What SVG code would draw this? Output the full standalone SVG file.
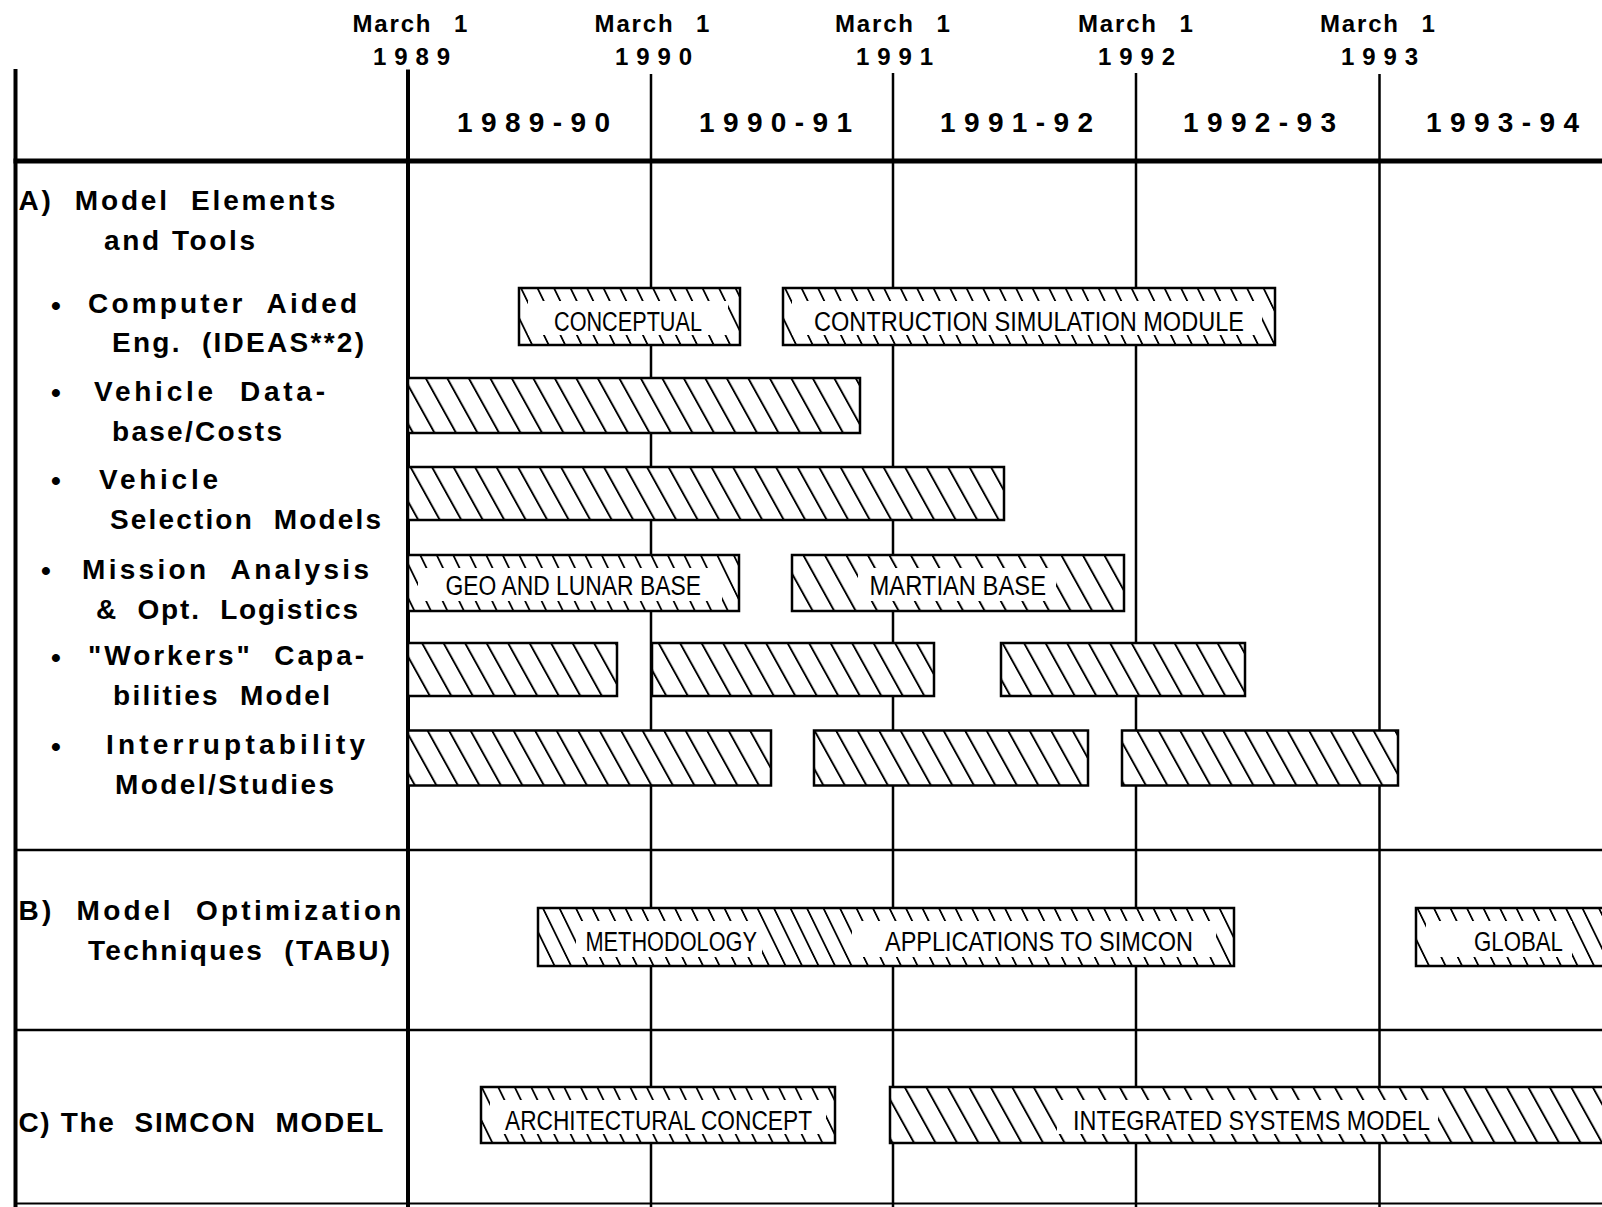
<svg xmlns="http://www.w3.org/2000/svg" width="1602" height="1207" viewBox="0 0 1602 1207">
<defs>
<pattern id="hd" width="21.5" height="40" patternUnits="userSpaceOnUse" patternTransform="skewX(29)">
<rect x="0" y="0" width="2.2" height="40" fill="#000"/>
</pattern>
<pattern id="hl" width="16.5" height="40" patternUnits="userSpaceOnUse" patternTransform="skewX(26)">
<rect x="0" y="0" width="2" height="40" fill="#000"/>
</pattern>
<style>
.lbl{font-family:"Liberation Sans",Arial,Helvetica,sans-serif;font-weight:bold;font-size:28px;fill:#000}
.mar{font-family:"Liberation Sans",Arial,Helvetica,sans-serif;font-weight:bold;font-size:24px;fill:#000}
.yr{font-family:"Liberation Sans",Arial,Helvetica,sans-serif;font-weight:bold;font-size:28px;fill:#000}
.bt{font-family:"Liberation Sans",Arial,Helvetica,sans-serif;font-size:27px;fill:#000}
.bg{fill:#fff}
.msk{fill:#fff}
.out{fill:none;stroke:#000;stroke-width:2.5}
.hd{fill:url(#hd)}
.hl{fill:url(#hl)}
.grid line{stroke:#000;stroke-width:2.5}
</style>
</defs>
<rect width="1602" height="1207" fill="#fff"/>

<g id="connectors" class="grid">
<line x1="15.5" y1="69" x2="15.5" y2="1207" style="stroke-width:4"/>
<line x1="408" y1="69.5" x2="408" y2="1207" style="stroke-width:4"/>
<line x1="651" y1="74" x2="651" y2="1207"/>
<line x1="893" y1="73" x2="893" y2="1207"/>
<line x1="1136" y1="73" x2="1136" y2="1207"/>
<line x1="1379.5" y1="74" x2="1379.5" y2="1207"/>
<line x1="13.5" y1="161" x2="1602" y2="161" style="stroke-width:5"/>
<line x1="15" y1="850" x2="1602" y2="850"/>
<line x1="15" y1="1030" x2="1602" y2="1030"/>
<line x1="15" y1="1203.5" x2="1602" y2="1203.5" style="stroke-width:2"/>
</g>

<g id="header">
<text class="mar" x="352.5" y="31.7" textLength="78" lengthAdjust="spacing">March</text><text class="mar" x="454" y="31.7">1</text>
<text class="mar" x="594.6" y="31.7" textLength="78" lengthAdjust="spacing">March</text><text class="mar" x="696.1" y="31.7">1</text>
<text class="mar" x="835" y="31.7" textLength="78" lengthAdjust="spacing">March</text><text class="mar" x="936.5" y="31.7">1</text>
<text class="mar" x="1078" y="31.7" textLength="78" lengthAdjust="spacing">March</text><text class="mar" x="1179.5" y="31.7">1</text>
<text class="mar" x="1320" y="31.7" textLength="78" lengthAdjust="spacing">March</text><text class="mar" x="1421.5" y="31.7">1</text>
<text class="mar" x="373" y="64.5" textLength="77" lengthAdjust="spacing">1989</text>
<text class="mar" x="615" y="64.5" textLength="77" lengthAdjust="spacing">1990</text>
<text class="mar" x="856" y="64.5" textLength="77" lengthAdjust="spacing">1991</text>
<text class="mar" x="1098" y="64.5" textLength="77" lengthAdjust="spacing">1992</text>
<text class="mar" x="1341" y="64.5" textLength="77" lengthAdjust="spacing">1993</text>
<text class="yr" x="457" y="132" textLength="153" lengthAdjust="spacing">1989-90</text>
<text class="yr" x="699" y="132" textLength="153" lengthAdjust="spacing">1990-91</text>
<text class="yr" x="940" y="132" textLength="153" lengthAdjust="spacing">1991-92</text>
<text class="yr" x="1183" y="132" textLength="153" lengthAdjust="spacing">1992-93</text>
<text class="yr" x="1426" y="132" textLength="153" lengthAdjust="spacing">1993-94</text>
</g>

<g id="labels">
<text class="lbl" x="18.4" y="210" textLength="317" lengthAdjust="spacing" xml:space="preserve">A)  Model  Elements</text>
<text class="lbl" x="104" y="250" textLength="151" lengthAdjust="spacing">and Tools</text>
<text class="lbl" x="56" y="314.5" text-anchor="middle">•</text>
<text class="lbl" x="88" y="312.5" textLength="269" lengthAdjust="spacing" xml:space="preserve">Computer  Aided</text>
<text class="lbl" x="112" y="352" textLength="252" lengthAdjust="spacing" xml:space="preserve">Eng.  (IDEAS**2)</text>
<text class="lbl" x="56" y="402" text-anchor="middle">•</text>
<text class="lbl" x="94" y="401" textLength="231" lengthAdjust="spacing" xml:space="preserve">Vehicle  Data-</text>
<text class="lbl" x="112" y="441" textLength="170" lengthAdjust="spacing">base/Costs</text>
<text class="lbl" x="56" y="490" text-anchor="middle">•</text>
<text class="lbl" x="99" y="489" textLength="119" lengthAdjust="spacing">Vehicle</text>
<text class="lbl" x="110" y="529" textLength="271" lengthAdjust="spacing" xml:space="preserve">Selection  Models</text>
<text class="lbl" x="46" y="580" text-anchor="middle">•</text>
<text class="lbl" x="82" y="579" textLength="287" lengthAdjust="spacing" xml:space="preserve">Mission  Analysis</text>
<text class="lbl" x="96" y="619" textLength="262" lengthAdjust="spacing" xml:space="preserve">&amp;  Opt.  Logistics</text>
<text class="lbl" x="56" y="667" text-anchor="middle">•</text>
<text class="lbl" x="88" y="665" textLength="276" lengthAdjust="spacing" xml:space="preserve">"Workers"  Capa-</text>
<text class="lbl" x="113" y="704.5" textLength="217" lengthAdjust="spacing" xml:space="preserve">bilities  Model</text>
<text class="lbl" x="56" y="756" text-anchor="middle">•</text>
<text class="lbl" x="106" y="753.5" textLength="259" lengthAdjust="spacing">Interruptability</text>
<text class="lbl" x="115" y="793.5" textLength="219" lengthAdjust="spacing">Model/Studies</text>
<text class="lbl" x="18.4" y="920" textLength="383" lengthAdjust="spacing" xml:space="preserve">B)  Model  Optimization</text>
<text class="lbl" x="88" y="959.5" textLength="302" lengthAdjust="spacing" xml:space="preserve">Techniques  (TABU)</text>
<text class="lbl" x="18.4" y="1131.5" textLength="365" lengthAdjust="spacing" xml:space="preserve">C) The  SIMCON  MODEL</text>
</g>

<g id="bar-conceptual">
<rect class="bg" x="519" y="288" width="221" height="57"/>
<rect class="hl" x="519" y="288" width="221" height="57"/>
<rect class="msk" x="528" y="301" width="200" height="34"/>
<text class="bt" x="554" y="331" textLength="148" lengthAdjust="spacingAndGlyphs">CONCEPTUAL</text>
<rect class="out" x="519" y="288" width="221" height="57"/>
</g>
<g id="bar-construction">
<rect class="bg" x="783" y="288" width="492" height="57"/>
<rect class="hl" x="783" y="288" width="492" height="57"/>
<rect class="msk" x="792" y="301" width="470" height="34"/>
<text class="bt" x="814" y="331" textLength="430" lengthAdjust="spacingAndGlyphs">CONTRUCTION SIMULATION MODULE</text>
<rect class="out" x="783" y="288" width="492" height="57"/>
</g>
<g id="bar-vehicle-database">
<rect class="bg" x="408" y="378" width="452" height="55"/>
<rect class="hd" x="408" y="378" width="452" height="55"/>
<rect class="out" x="408" y="378" width="452" height="55"/>
</g>
<g id="bar-vehicle-selection">
<rect class="bg" x="408" y="467" width="596" height="53"/>
<rect class="hd" x="408" y="467" width="596" height="53"/>
<rect class="out" x="408" y="467" width="596" height="53"/>
</g>
<g id="bar-geo-lunar">
<rect class="bg" x="408" y="555" width="331" height="56"/>
<rect class="hl" x="408" y="555" width="331" height="56"/>
<rect class="msk" x="418" y="568" width="304" height="33"/>
<text class="bt" x="445.5" y="595" textLength="255.5" lengthAdjust="spacingAndGlyphs">GEO AND LUNAR BASE</text>
<rect class="out" x="408" y="555" width="331" height="56"/>
</g>
<g id="bar-martian">
<rect class="bg" x="792" y="555" width="332" height="56"/>
<rect class="hd" x="792" y="555" width="332" height="56"/>
<rect class="msk" x="858" y="568" width="198" height="33"/>
<text class="bt" x="869.5" y="595" textLength="176.5" lengthAdjust="spacingAndGlyphs">MARTIAN BASE</text>
<rect class="out" x="792" y="555" width="332" height="56"/>
</g>
<g id="bar-workers-1">
<rect class="bg" x="408" y="643" width="209" height="53"/>
<rect class="hd" x="408" y="643" width="209" height="53"/>
<rect class="out" x="408" y="643" width="209" height="53"/>
</g>
<g id="bar-workers-2">
<rect class="bg" x="652" y="643" width="282" height="53"/>
<rect class="hd" x="652" y="643" width="282" height="53"/>
<rect class="out" x="652" y="643" width="282" height="53"/>
</g>
<g id="bar-workers-3">
<rect class="bg" x="1001" y="643" width="244" height="53"/>
<rect class="hd" x="1001" y="643" width="244" height="53"/>
<rect class="out" x="1001" y="643" width="244" height="53"/>
</g>
<g id="bar-interrupt-1">
<rect class="bg" x="408" y="730.5" width="363" height="55"/>
<rect class="hd" x="408" y="730.5" width="363" height="55"/>
<rect class="out" x="408" y="730.5" width="363" height="55"/>
</g>
<g id="bar-interrupt-2">
<rect class="bg" x="814" y="730.5" width="274" height="55"/>
<rect class="hd" x="814" y="730.5" width="274" height="55"/>
<rect class="out" x="814" y="730.5" width="274" height="55"/>
</g>
<g id="bar-interrupt-3">
<rect class="bg" x="1122" y="730.5" width="276" height="55"/>
<rect class="hd" x="1122" y="730.5" width="276" height="55"/>
<rect class="out" x="1122" y="730.5" width="276" height="55"/>
</g>
<g id="bar-tabu">
<rect class="bg" x="538" y="908" width="696" height="58"/>
<rect class="hl" x="538" y="908" width="696" height="58"/>
<rect class="msk" x="576" y="921" width="186" height="36"/>
<rect class="msk" x="852" y="921" width="364" height="36"/>
<text class="bt" x="585.5" y="951" textLength="171.5" lengthAdjust="spacingAndGlyphs">METHODOLOGY</text>
<text class="bt" x="885" y="951" textLength="308" lengthAdjust="spacingAndGlyphs">APPLICATIONS TO SIMCON</text>
<rect class="out" x="538" y="908" width="696" height="58"/>
</g>
<g id="bar-global">
<rect class="bg" x="1416" y="908" width="200" height="58"/>
<rect class="hl" x="1416" y="908" width="200" height="58"/>
<rect class="msk" x="1426" y="921" width="146" height="36"/>
<text class="bt" x="1474" y="951" textLength="89" lengthAdjust="spacingAndGlyphs">GLOBAL</text>
<rect class="out" x="1416" y="908" width="200" height="58"/>
</g>
<g id="bar-architectural">
<rect class="bg" x="481" y="1087" width="354" height="56"/>
<rect class="hl" x="481" y="1087" width="354" height="56"/>
<rect class="msk" x="490" y="1100" width="336" height="34"/>
<text class="bt" x="505" y="1130" textLength="307" lengthAdjust="spacingAndGlyphs">ARCHITECTURAL CONCEPT</text>
<rect class="out" x="481" y="1087" width="354" height="56"/>
</g>
<g id="bar-integrated">
<rect class="bg" x="890" y="1087" width="722" height="56"/>
<rect class="hd" x="890" y="1087" width="722" height="56"/>
<rect class="msk" x="1057" y="1100" width="381" height="34"/>
<text class="bt" x="1073" y="1130" textLength="357" lengthAdjust="spacingAndGlyphs">INTEGRATED SYSTEMS MODEL</text>
<rect class="out" x="890" y="1087" width="722" height="56"/>
</g>
</svg>
